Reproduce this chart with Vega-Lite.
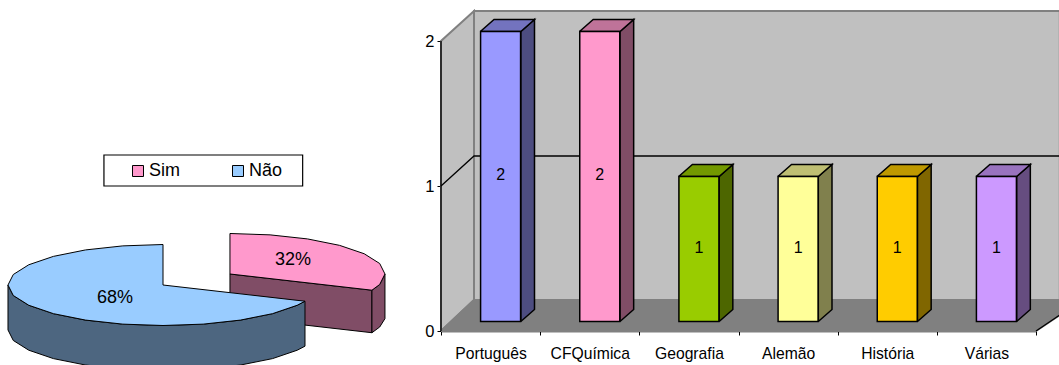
{
"$schema":"https://vega.github.io/schema/vega-lite/v6.json",
"background":"white","padding":0,"spacing":0,"bounds":"flush",
"config":{"view":{"stroke":null},"font":"Liberation Sans","text":{"font":"Liberation Sans"}},
"datasets":{
"pizza":[{"categoria":"Sim","pct":32,"rotulo":"32%","lx":0.839,"ly":0.617},{"categoria":"Não","pct":68,"rotulo":"68%","lx":-0.31,"ly":-0.32}],
"caixa":[{"x":-0.381,"x2":0.901,"y":3.21,"y2":2.444}],
"fatiaTopo":[
{"categoria":"Sim","i":0,"x":0.432,"y":0.272},{"categoria":"Sim","i":1,"x":0.432,"y":1.272},{"categoria":"Sim","i":2,"x":0.691,"y":1.238},{"categoria":"Sim","i":3,"x":0.932,"y":1.138},{"categoria":"Sim","i":4,"x":1.139,"y":0.979},{"categoria":"Sim","i":5,"x":1.298,"y":0.772},{"categoria":"Sim","i":6,"x":1.398,"y":0.531},{"categoria":"Sim","i":7,"x":1.432,"y":0.272},{"categoria":"Sim","i":8,"x":1.398,"y":0.013},{"categoria":"Sim","i":9,"x":1.348,"y":-0.128},{"categoria":"Sim","i":10,"x":0.432,"y":0.272},
{"categoria":"Não","i":0,"x":0,"y":0},{"categoria":"Não","i":1,"x":0,"y":1},{"categoria":"Não","i":2,"x":-0.259,"y":0.966},{"categoria":"Não","i":3,"x":-0.5,"y":0.866},{"categoria":"Não","i":4,"x":-0.707,"y":0.707},{"categoria":"Não","i":5,"x":-0.866,"y":0.5},{"categoria":"Não","i":6,"x":-0.966,"y":0.259},{"categoria":"Não","i":7,"x":-1,"y":0},{"categoria":"Não","i":8,"x":-0.966,"y":-0.259},{"categoria":"Não","i":9,"x":-0.866,"y":-0.5},{"categoria":"Não","i":10,"x":-0.707,"y":-0.707},{"categoria":"Não","i":11,"x":-0.5,"y":-0.866},{"categoria":"Não","i":12,"x":-0.259,"y":-0.966},{"categoria":"Não","i":13,"x":0,"y":-1},{"categoria":"Não","i":14,"x":0.259,"y":-0.966},{"categoria":"Não","i":15,"x":0.5,"y":-0.866},{"categoria":"Não","i":16,"x":0.707,"y":-0.707},{"categoria":"Não","i":17,"x":0.866,"y":-0.5},{"categoria":"Não","i":18,"x":0.916,"y":-0.4},{"categoria":"Não","i":19,"x":0,"y":0}],
"fatiaLado":[
{"categoria":"Sim","face":"interna","x":0.432,"y":0.272,"y2":-0.778},{"categoria":"Sim","face":"interna","x":1.348,"y":-0.128,"y2":-1.178},
{"categoria":"Sim","face":"externa","x":1.348,"y":-0.128,"y2":-1.178},{"categoria":"Sim","face":"externa","x":1.398,"y":0.013,"y2":-1.037},{"categoria":"Sim","face":"externa","x":1.432,"y":0.272,"y2":-0.83},
{"categoria":"Não","face":"externa","x":-1,"y":0,"y2":-1.11},{"categoria":"Não","face":"externa","x":-0.966,"y":-0.259,"y2":-1.369},{"categoria":"Não","face":"externa","x":-0.866,"y":-0.5,"y2":-1.61},{"categoria":"Não","face":"externa","x":-0.707,"y":-0.707,"y2":-1.817},{"categoria":"Não","face":"externa","x":-0.5,"y":-0.866,"y2":-1.976},{"categoria":"Não","face":"externa","x":-0.259,"y":-0.966,"y2":-2.076},{"categoria":"Não","face":"externa","x":0,"y":-1,"y2":-2.11},{"categoria":"Não","face":"externa","x":0.259,"y":-0.966,"y2":-2.076},{"categoria":"Não","face":"externa","x":0.5,"y":-0.866,"y2":-1.976},{"categoria":"Não","face":"externa","x":0.707,"y":-0.707,"y2":-1.817},{"categoria":"Não","face":"externa","x":0.866,"y":-0.5,"y2":-1.61},{"categoria":"Não","face":"externa","x":0.916,"y":-0.4,"y2":-1.51}],
"disciplinas":[
{"categoria":"Português","valor":2,"pos":0.5,"meio":1},{"categoria":"CFQuímica","valor":2,"pos":1.5,"meio":1},{"categoria":"Geografia","valor":1,"pos":2.5,"meio":0.5},{"categoria":"Alemão","valor":1,"pos":3.5,"meio":0.5},{"categoria":"História","valor":1,"pos":4.5,"meio":0.5},{"categoria":"Várias","valor":1,"pos":5.5,"meio":0.5}],
"paredes":[
{"parte":"lateral","i":0,"x":0,"y":0},{"parte":"lateral","i":1,"x":0.333,"y":0.214},{"parte":"lateral","i":2,"x":0.333,"y":2.207},{"parte":"lateral","i":3,"x":0,"y":2},{"parte":"lateral","i":4,"x":0,"y":0},
{"parte":"fundo","i":0,"x":0.333,"y":0.214},{"parte":"fundo","i":1,"x":0.333,"y":2.207},{"parte":"fundo","i":2,"x":6.24,"y":2.207},{"parte":"fundo","i":3,"x":6.24,"y":0.214},{"parte":"fundo","i":4,"x":0.333,"y":0.214},
{"parte":"chao","i":0,"x":0,"y":0},{"parte":"chao","i":1,"x":6,"y":0},{"parte":"chao","i":2,"x":6.24,"y":0.11},{"parte":"chao","i":3,"x":6.24,"y":0.214},{"parte":"chao","i":4,"x":0.333,"y":0.214},{"parte":"chao","i":5,"x":0,"y":0}],
"linhas":[
{"linha":"grade","i":0,"x":0,"y":1},{"linha":"grade","i":1,"x":0.333,"y":1.207},{"linha":"grade","i":2,"x":6.24,"y":1.207},
{"linha":"eixo","i":0,"x":0,"y":0},{"linha":"eixo","i":1,"x":0,"y":2},
{"linha":"canto","i":0,"x":6,"y":0},{"linha":"canto","i":1,"x":6.24,"y":0.11}],
"topos":[
{"categoria":"Português","i":0,"x":0.296,"y":2},{"categoria":"Português","i":1,"x":0.704,"y":2},{"categoria":"Português","i":2,"x":0.842,"y":2.083},{"categoria":"Português","i":3,"x":0.434,"y":2.083},{"categoria":"Português","i":4,"x":0.296,"y":2},
{"categoria":"CFQuímica","i":0,"x":1.296,"y":2},{"categoria":"CFQuímica","i":1,"x":1.704,"y":2},{"categoria":"CFQuímica","i":2,"x":1.842,"y":2.083},{"categoria":"CFQuímica","i":3,"x":1.434,"y":2.083},{"categoria":"CFQuímica","i":4,"x":1.296,"y":2},
{"categoria":"Geografia","i":0,"x":2.296,"y":1},{"categoria":"Geografia","i":1,"x":2.704,"y":1},{"categoria":"Geografia","i":2,"x":2.842,"y":1.083},{"categoria":"Geografia","i":3,"x":2.434,"y":1.083},{"categoria":"Geografia","i":4,"x":2.296,"y":1},
{"categoria":"Alemão","i":0,"x":3.296,"y":1},{"categoria":"Alemão","i":1,"x":3.704,"y":1},{"categoria":"Alemão","i":2,"x":3.842,"y":1.083},{"categoria":"Alemão","i":3,"x":3.434,"y":1.083},{"categoria":"Alemão","i":4,"x":3.296,"y":1},
{"categoria":"História","i":0,"x":4.296,"y":1},{"categoria":"História","i":1,"x":4.704,"y":1},{"categoria":"História","i":2,"x":4.842,"y":1.083},{"categoria":"História","i":3,"x":4.434,"y":1.083},{"categoria":"História","i":4,"x":4.296,"y":1},
{"categoria":"Várias","i":0,"x":5.296,"y":1},{"categoria":"Várias","i":1,"x":5.704,"y":1},{"categoria":"Várias","i":2,"x":5.842,"y":1.083},{"categoria":"Várias","i":3,"x":5.434,"y":1.083},{"categoria":"Várias","i":4,"x":5.296,"y":1}],
"lados":[
{"categoria":"Português","i":0,"x":0.704,"y":0},{"categoria":"Português","i":1,"x":0.842,"y":0.083},{"categoria":"Português","i":2,"x":0.842,"y":2.083},{"categoria":"Português","i":3,"x":0.704,"y":2},{"categoria":"Português","i":4,"x":0.704,"y":0},
{"categoria":"CFQuímica","i":0,"x":1.704,"y":0},{"categoria":"CFQuímica","i":1,"x":1.842,"y":0.083},{"categoria":"CFQuímica","i":2,"x":1.842,"y":2.083},{"categoria":"CFQuímica","i":3,"x":1.704,"y":2},{"categoria":"CFQuímica","i":4,"x":1.704,"y":0},
{"categoria":"Geografia","i":0,"x":2.704,"y":0},{"categoria":"Geografia","i":1,"x":2.842,"y":0.083},{"categoria":"Geografia","i":2,"x":2.842,"y":1.083},{"categoria":"Geografia","i":3,"x":2.704,"y":1},{"categoria":"Geografia","i":4,"x":2.704,"y":0},
{"categoria":"Alemão","i":0,"x":3.704,"y":0},{"categoria":"Alemão","i":1,"x":3.842,"y":0.083},{"categoria":"Alemão","i":2,"x":3.842,"y":1.083},{"categoria":"Alemão","i":3,"x":3.704,"y":1},{"categoria":"Alemão","i":4,"x":3.704,"y":0},
{"categoria":"História","i":0,"x":4.704,"y":0},{"categoria":"História","i":1,"x":4.842,"y":0.083},{"categoria":"História","i":2,"x":4.842,"y":1.083},{"categoria":"História","i":3,"x":4.704,"y":1},{"categoria":"História","i":4,"x":4.704,"y":0},
{"categoria":"Várias","i":0,"x":5.704,"y":0},{"categoria":"Várias","i":1,"x":5.842,"y":0.083},{"categoria":"Várias","i":2,"x":5.842,"y":1.083},{"categoria":"Várias","i":3,"x":5.704,"y":1},{"categoria":"Várias","i":4,"x":5.704,"y":0}]
},
"hconcat":[
{"width":441,"height":365,
"resolve":{"scale":{"fill":"independent"}},
"layer":[
{"data":{"name":"fatiaLado"},"mark":{"type":"area","stroke":"#000","strokeWidth":1},
"encoding":{"x":{"field":"x","type":"quantitative","scale":{"domain":[-1.0516,1.7935],"nice":false,"zero":false},"axis":null},
"y":{"field":"y","type":"quantitative","stack":null,"scale":{"domain":[-1.975,7.037],"nice":false,"zero":false},"axis":null},
"y2":{"field":"y2"},
"fill":{"field":"categoria","type":"nominal","scale":{"domain":["Sim","Não"],"range":["#804d66","#4d6680"]},"legend":null},
"detail":{"field":"face"}}},
{"data":{"name":"fatiaTopo"},"mark":{"type":"line","stroke":"#000","strokeWidth":1},
"encoding":{"x":{"field":"x","type":"quantitative"},"y":{"field":"y","type":"quantitative"},"order":{"field":"i"},
"fill":{"field":"categoria","type":"nominal","scale":{"domain":["Sim","Não"],"range":["#ff99cc","#99ccff"]},
"legend":{"title":null,"orient":"none","legendX":129,"legendY":162,"direction":"horizontal","padding":0,"symbolType":"square","symbolSize":121,"symbolStrokeColor":"#000","symbolStrokeWidth":1,"labelFont":"Liberation Sans","labelFontSize":18,"labelColor":"#000","labelOffset":2,"columnPadding":49}}}},
{"data":{"name":"pizza"},"mark":{"type":"text","fontSize":18,"font":"Liberation Sans","color":"#000"},
"encoding":{"x":{"field":"lx","type":"quantitative"},"y":{"field":"ly","type":"quantitative"},"text":{"field":"rotulo"}}},
{"data":{"name":"caixa"},"mark":{"type":"rect","fill":"white","stroke":"#000","strokeWidth":1.2},
"encoding":{"x":{"field":"x","type":"quantitative"},"x2":{"field":"x2"},"y":{"field":"y","type":"quantitative"},"y2":{"field":"y2"}}}
]},
{"width":595,"height":331,
"resolve":{"scale":{"fill":"independent"}},
"layer":[
{"data":{"name":"paredes"},"mark":{"type":"line","stroke":"#808080","strokeWidth":2},
"encoding":{"x":{"field":"x","type":"quantitative","scale":{"domain":[0,6],"nice":false,"padding":0},
"axis":{"title":null,"values":[0,1,2,3,4,5,6],"grid":false,"domainColor":"#000","domainWidth":1.5,"tickColor":"#000","tickSize":4,"tickWidth":1,"labelExpr":"['Português','CFQuímica','Geografia','Alemão','História','Várias',''][datum.value]","labelOffset":49.6,"labelFont":"Liberation Sans","labelFontSize":15.7,"labelColor":"#000","labelPadding":11,"labelAngle":0,"labelAlign":"center","labelOverlap":false,"labelFlush":false}},
"y":{"field":"y","type":"quantitative","scale":{"domain":[0,2.2828],"nice":false},
"axis":{"title":null,"values":[0,1,2],"format":"d","grid":false,"domain":false,"tickColor":"#000","tickSize":4,"tickWidth":1,"labelFont":"Liberation Sans","labelFontSize":16.5,"labelColor":"#000","labelPadding":3}},
"order":{"field":"i"},
"fill":{"field":"parte","type":"nominal","scale":{"domain":["lateral","fundo","chao"],"range":["#c0c0c0","#c0c0c0","#808080"]},"legend":null}}},
{"data":{"name":"linhas"},"mark":{"type":"line","stroke":"#000","strokeWidth":1.3},
"encoding":{"x":{"field":"x","type":"quantitative"},"y":{"field":"y","type":"quantitative"},"order":{"field":"i"},"detail":{"field":"linha"}}},
{"data":{"name":"lados"},"mark":{"type":"line","stroke":"#000","strokeWidth":1.5,"xOffset":10,"yOffset":-9.5},
"encoding":{"x":{"field":"x","type":"quantitative"},"y":{"field":"y","type":"quantitative"},"order":{"field":"i"},
"fill":{"field":"categoria","type":"nominal","scale":{"domain":["Português","CFQuímica","Geografia","Alemão","História","Várias"],"range":["#4d4d80","#804d66","#4d6600","#80804d","#806600","#664d80"]},"legend":null}}},
{"data":{"name":"topos"},"mark":{"type":"line","stroke":"#000","strokeWidth":1.5,"xOffset":10,"yOffset":-9.5},
"encoding":{"x":{"field":"x","type":"quantitative"},"y":{"field":"y","type":"quantitative"},"order":{"field":"i"},
"fill":{"field":"categoria","type":"nominal","scale":{"domain":["Português","CFQuímica","Geografia","Alemão","História","Várias"],"range":["#7373bf","#bf7399","#739900","#bfbf73","#bf9900","#9973bf"]},"legend":null}}},
{"data":{"name":"disciplinas"},"mark":{"type":"bar","orient":"vertical","size":40,"stroke":"#000","strokeWidth":1.5,"xOffset":10,"yOffset":-9.5,"y2Offset":-9.5},
"encoding":{"x":{"field":"pos","type":"quantitative","scale":{"padding":0}},"y":{"field":"valor","type":"quantitative","stack":null},"y2":{"datum":0},
"fill":{"field":"categoria","type":"nominal","scale":{"domain":["Português","CFQuímica","Geografia","Alemão","História","Várias"],"range":["#9999ff","#ff99cc","#99cc00","#ffff99","#ffcc00","#cc99ff"]},"legend":null}}},
{"data":{"name":"disciplinas"},"mark":{"type":"text","font":"Liberation Sans","fontSize":16,"color":"#000","xOffset":10,"yOffset":-11},
"encoding":{"x":{"field":"pos","type":"quantitative"},"y":{"field":"meio","type":"quantitative"},"text":{"field":"valor","type":"quantitative"}}}
]}
]}
